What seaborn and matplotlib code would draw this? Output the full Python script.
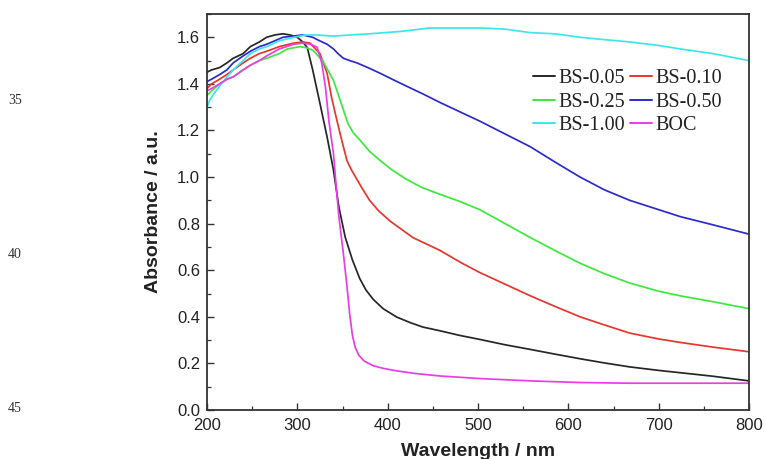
import numpy as np
import pandas as pd
import seaborn as sns
import matplotlib
matplotlib.use("Agg")
import matplotlib.pyplot as plt
from matplotlib.ticker import MultipleLocator

# ---- data ----
series_names = ["BS-0.05", "BS-0.10", "BS-0.25", "BS-0.50", "BS-1.00", "BOC"]

wl_bs005 = [200, 205, 214, 222, 229, 240, 248, 258, 266, 275, 284, 292, 300, 306, 311, 317, 325, 333, 340, 346, 353, 361, 369, 376, 384, 395, 410, 425, 439, 458, 480, 502, 530, 558, 585, 613, 640, 668, 700, 724, 760, 800]
ab_bs005 = [1.45, 1.46, 1.47, 1.49, 1.51, 1.53, 1.56, 1.58, 1.60, 1.61, 1.615, 1.61, 1.60, 1.58, 1.556, 1.46, 1.317, 1.171, 1.03, 0.871, 0.742, 0.644, 0.565, 0.515, 0.475, 0.435, 0.399, 0.375, 0.356, 0.34, 0.32, 0.303, 0.28, 0.26, 0.24, 0.22, 0.202, 0.185, 0.17, 0.16, 0.145, 0.125]

wl_bs010 = [200, 205, 214, 222, 229, 240, 248, 258, 266, 280, 296, 306, 314, 325, 333, 338, 344, 350, 355, 360, 366, 372, 380, 390, 403, 428, 458, 480, 502, 530, 558, 585, 613, 640, 668, 700, 724, 760, 800]
ab_bs010 = [1.38, 1.40, 1.42, 1.44, 1.46, 1.49, 1.51, 1.53, 1.54, 1.56, 1.575, 1.58, 1.575, 1.53, 1.445, 1.34, 1.24, 1.145, 1.07, 1.03, 0.99, 0.95, 0.90, 0.855, 0.81, 0.74, 0.685, 0.635, 0.59, 0.54, 0.49, 0.445, 0.40, 0.365, 0.33, 0.305, 0.29, 0.27, 0.25]

wl_bs025 = [200, 205, 214, 222, 229, 240, 248, 258, 266, 280, 289, 303, 310, 317, 328, 340, 350, 356, 362, 369, 380, 392, 405, 421, 438, 455, 480, 502, 530, 558, 585, 613, 640, 668, 700, 724, 760, 800]
ab_bs025 = [1.35, 1.37, 1.40, 1.42, 1.43, 1.46, 1.48, 1.50, 1.51, 1.53, 1.55, 1.56, 1.555, 1.545, 1.50, 1.415, 1.30, 1.23, 1.19, 1.16, 1.11, 1.07, 1.03, 0.99, 0.955, 0.93, 0.895, 0.86, 0.80, 0.74, 0.685, 0.63, 0.585, 0.545, 0.51, 0.49, 0.465, 0.435]

wl_bs050 = [200, 205, 214, 222, 229, 240, 248, 258, 266, 275, 284, 295, 306, 317, 322, 333, 340, 345, 351, 358, 366, 378, 392, 405, 421, 440, 458, 480, 502, 530, 558, 585, 613, 640, 668, 700, 724, 760, 800]
ab_bs050 = [1.41, 1.42, 1.44, 1.46, 1.49, 1.52, 1.54, 1.56, 1.57, 1.585, 1.60, 1.605, 1.61, 1.60, 1.59, 1.57, 1.55, 1.53, 1.51, 1.50, 1.49, 1.47, 1.445, 1.42, 1.39, 1.355, 1.32, 1.28, 1.24, 1.185, 1.13, 1.065, 1.00, 0.945, 0.90, 0.86, 0.83, 0.795, 0.755]

wl_bs100 = [200, 203, 208, 214, 222, 229, 240, 248, 258, 266, 280, 296, 310, 322, 340, 358, 380, 414, 447, 502, 530, 558, 585, 613, 640, 668, 700, 724, 760, 800]
ab_bs100 = [1.30, 1.33, 1.36, 1.39, 1.43, 1.46, 1.50, 1.53, 1.55, 1.56, 1.585, 1.60, 1.61, 1.61, 1.605, 1.61, 1.615, 1.625, 1.64, 1.64, 1.635, 1.62, 1.615, 1.60, 1.59, 1.58, 1.565, 1.55, 1.53, 1.50]

wl_boc = [200, 205, 214, 222, 229, 240, 248, 258, 266, 280, 296, 306, 315, 322, 327, 331, 335, 340, 343, 346, 351, 355, 358, 361, 364, 368, 374, 384, 396, 410, 430, 458, 502, 558, 613, 668, 724, 800]
ab_boc = [1.37, 1.38, 1.40, 1.42, 1.43, 1.46, 1.48, 1.50, 1.52, 1.55, 1.57, 1.575, 1.57, 1.557, 1.49, 1.39, 1.24, 1.10, 0.96, 0.83, 0.67, 0.53, 0.41, 0.32, 0.27, 0.235, 0.21, 0.19, 0.178, 0.168, 0.157, 0.146, 0.135, 0.125, 0.118, 0.115, 0.115, 0.115]

series_wl = [wl_bs005, wl_bs010, wl_bs025, wl_bs050, wl_bs100, wl_boc]
series_ab = [ab_bs005, ab_bs010, ab_bs025, ab_bs050, ab_bs100, ab_boc]

x_ticks = [200, 300, 400, 500, 600, 700, 800]
y_ticks = [0.0, 0.2, 0.4, 0.6, 0.8, 1.0, 1.2, 1.4, 1.6]
x_label = "Wavelength / nm"
y_label = "Absorbance / a.u."
margin_numbers = ["35", "40", "45"]

colors = ["#262626", "#e8352e", "#3ee83e", "#2b2bcc", "#3de6ea", "#e83de8"]

frames = []
for name, wl, ab in zip(series_names, series_wl, series_ab):
    frames.append(pd.DataFrame({"Wavelength": wl, "Absorbance": ab, "Sample": name}))
df = pd.concat(frames, ignore_index=True)

# ---- figure ----
sns.set_theme(style="ticks")
plt.rcParams["font.family"] = ["Liberation Sans", "DejaVu Sans"]

fig = plt.figure(figsize=(7.65, 4.59), dpi=100)
ax = fig.add_axes([207 / 765, 1 - 410 / 459, 542 / 765, 396 / 459])

sns.lineplot(data=df, x="Wavelength", y="Absorbance", hue="Sample",
             hue_order=series_names, palette=colors, estimator=None,
             sort=False, linewidth=1.25, ax=ax)

ax.set_xlim(200, 800)
ax.set_ylim(0, 1.7)
ax.set_xticks(x_ticks)
ax.set_yticks(y_ticks)
ax.set_xticklabels([str(t) for t in x_ticks])
ax.set_yticklabels([f"{t:.1f}" for t in y_ticks])
ax.xaxis.set_minor_locator(MultipleLocator(50))
ax.yaxis.set_minor_locator(MultipleLocator(0.1))
ax.tick_params(which="major", direction="in", length=5, width=1.0,
               labelsize=12, color="#333333", labelcolor="#222222",
               top=False, right=False)
ax.tick_params(axis="x", which="major", pad=6)
ax.tick_params(axis="y", which="major", pad=5)
ax.tick_params(which="minor", direction="in", length=3, width=0.9,
               color="#333333", top=False, right=False)
for s in ax.spines.values():
    s.set_visible(True)
    s.set_linewidth(1.3)
    s.set_color("#333333")

ax.set_xlabel(x_label, fontsize=14, fontweight="bold", color="#222222", labelpad=7)
ax.set_ylabel(y_label, fontsize=14, fontweight="bold", color="#222222", labelpad=11)

# legend filled row-wise like the reference
handles, labels = ax.get_legend_handles_labels()
order = [0, 2, 4, 1, 3, 5]
leg = ax.legend([handles[i] for i in order], [labels[i] for i in order],
                loc="upper left", bbox_to_anchor=((525 - 207) / 542, (410 - 61) / 396),
                ncol=2, frameon=False, handlelength=1.1, handletextpad=0.15,
                columnspacing=0.25, labelspacing=0.22, borderaxespad=0,
                prop={"family": "Liberation Serif", "size": 14.5})
for t in leg.get_texts():
    t.set_color("#222222")
for h in leg.get_lines():
    h.set_linewidth(1.4)

for txt, ypx in zip(margin_numbers, [101, 255, 408]):
    fig.text(15 / 765, 1 - ypx / 459, txt, ha="center", va="center",
             fontsize=10, family="Liberation Serif", color="#333333")

fig.savefig("out.png", dpi=100)
